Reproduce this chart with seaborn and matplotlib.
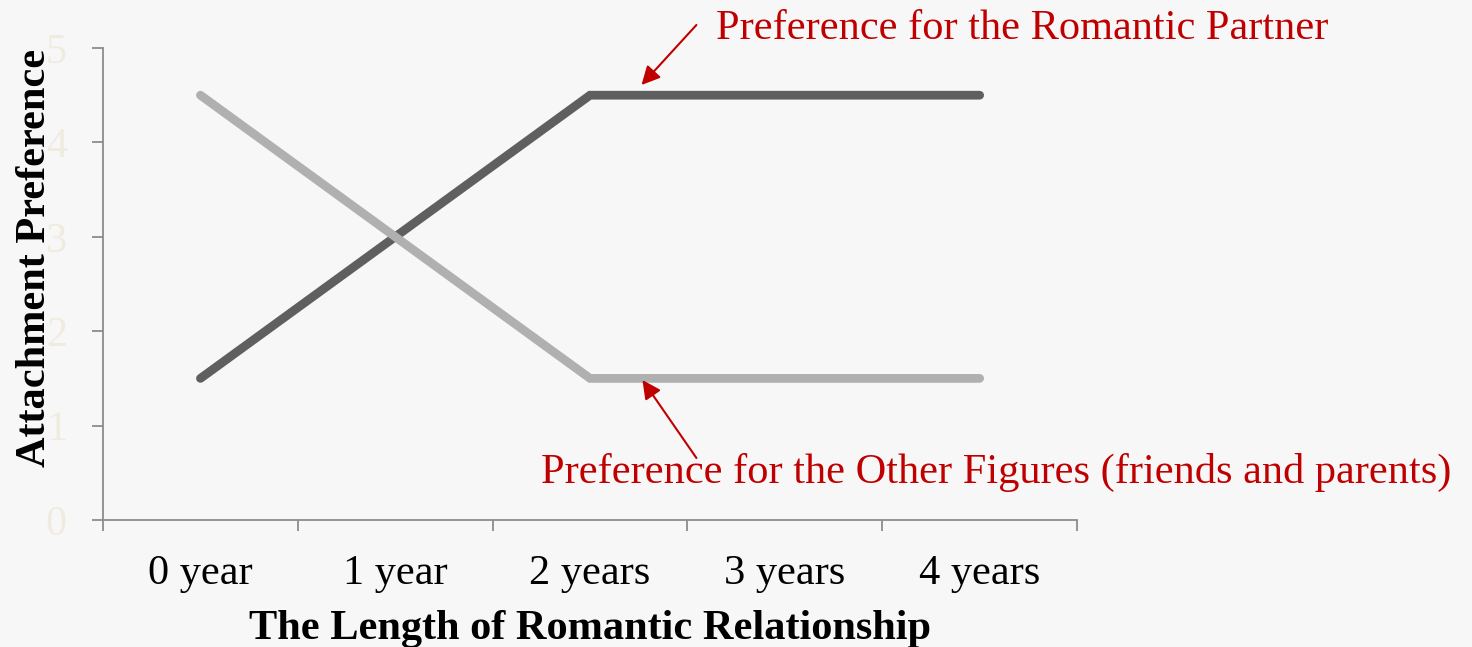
import numpy as np
import pandas as pd
import seaborn as sns
import matplotlib.pyplot as plt
from matplotlib.ticker import FixedLocator

# =========================================================
# DATA
# =========================================================

categories = ["0 year", "1 year", "2 years", "3 years", "4 years"]
partner = [1.5, 3.0, 4.5, 4.5, 4.5]
others = [4.5, 3.0, 1.5, 1.5, 1.5]

df = pd.DataFrame({
    "pos": list(range(len(categories))) * 2,
    "value": partner + others,
    "series": ["partner"] * 5 + ["others"] * 5,
})

# =========================================================
# STYLE
# =========================================================

sns.set_style("white")
plt.rcParams["font.family"] = ["Liberation Serif", "DejaVu Serif"]
plt.rcParams["text.color"] = "black"
plt.rcParams["xtick.color"] = "black"

bg = "#f7f7f7"
red = "#c00000"
axis_grey = "#8c8c8c"
fs = 30.5

fig = plt.figure(figsize=(14.72, 6.47), dpi=100, facecolor=bg)
ax = fig.add_axes([0.07, 0.1963, 0.6617, 0.7295])
ax.set_facecolor(bg)

# =========================================================
# LINES
# =========================================================

sns.lineplot(
    data=df,
    x="pos",
    y="value",
    hue="series",
    palette={"partner": "#5f5f5f", "others": "#b0b0b0"},
    linewidth=6.3,
    legend=False,
    ax=ax,
)
for line in ax.lines:
    line.set_solid_capstyle("round")
    line.set_solid_joinstyle("miter")

# =========================================================
# AXES
# =========================================================

ax.set_xlim(-0.5, len(categories) - 0.5)
ax.set_ylim(0, 5)

ax.set_xticks(range(len(categories)))
ax.set_xticklabels(categories, fontsize=fs, color="black")
ax.xaxis.set_minor_locator(FixedLocator(np.arange(-0.5, len(categories), 1)))
ax.tick_params(axis="x", which="major", bottom=True, length=0, pad=25)
ax.tick_params(axis="x", which="minor", bottom=True, length=8, width=1.3,
               color=axis_grey, direction="out")

ax.set_yticks(range(6))
ax.tick_params(axis="y", left=True, length=8, width=1.3, color=axis_grey,
               direction="out", labelsize=fs, labelcolor="#efecdf", pad=18)

for side in ["top", "right"]:
    ax.spines[side].set_visible(False)
for side in ["left", "bottom"]:
    ax.spines[side].set_color(axis_grey)
    ax.spines[side].set_linewidth(1.3)

ax.set_xlabel("The Length of Romantic Relationship",
              fontsize=fs, fontweight="bold", color="black")
ax.xaxis.set_label_coords(0.5, -0.19)
ax.set_ylabel("Attachment Preference", fontsize=fs, fontweight="bold",
              color="black")
ax.yaxis.set_label_coords(-0.05, 0.555)

# =========================================================
# ANNOTATIONS
# =========================================================

ax.text(2.649, 5.20, "Preference for the Romantic Partner",
        color=red, fontsize=fs, ha="left", va="center")
ax.annotate("", xy=(2.264, 4.608), xytext=(2.546, 5.244),
            arrowprops=dict(arrowstyle="-|>", color=red, lw=1.5,
                            mutation_scale=28, shrinkA=0, shrinkB=0),
            annotation_clip=False)

ax.text(1.746, 0.50,
        "Preference for the Other Figures (friends and parents)",
        color=red, fontsize=fs, ha="left", va="center")
ax.annotate("", xy=(2.269, 1.483), xytext=(2.546, 0.657),
            arrowprops=dict(arrowstyle="-|>", color=red, lw=1.5,
                            mutation_scale=28, shrinkA=0, shrinkB=0),
            annotation_clip=False)

fig.savefig("out.png", dpi=100, facecolor=bg)
